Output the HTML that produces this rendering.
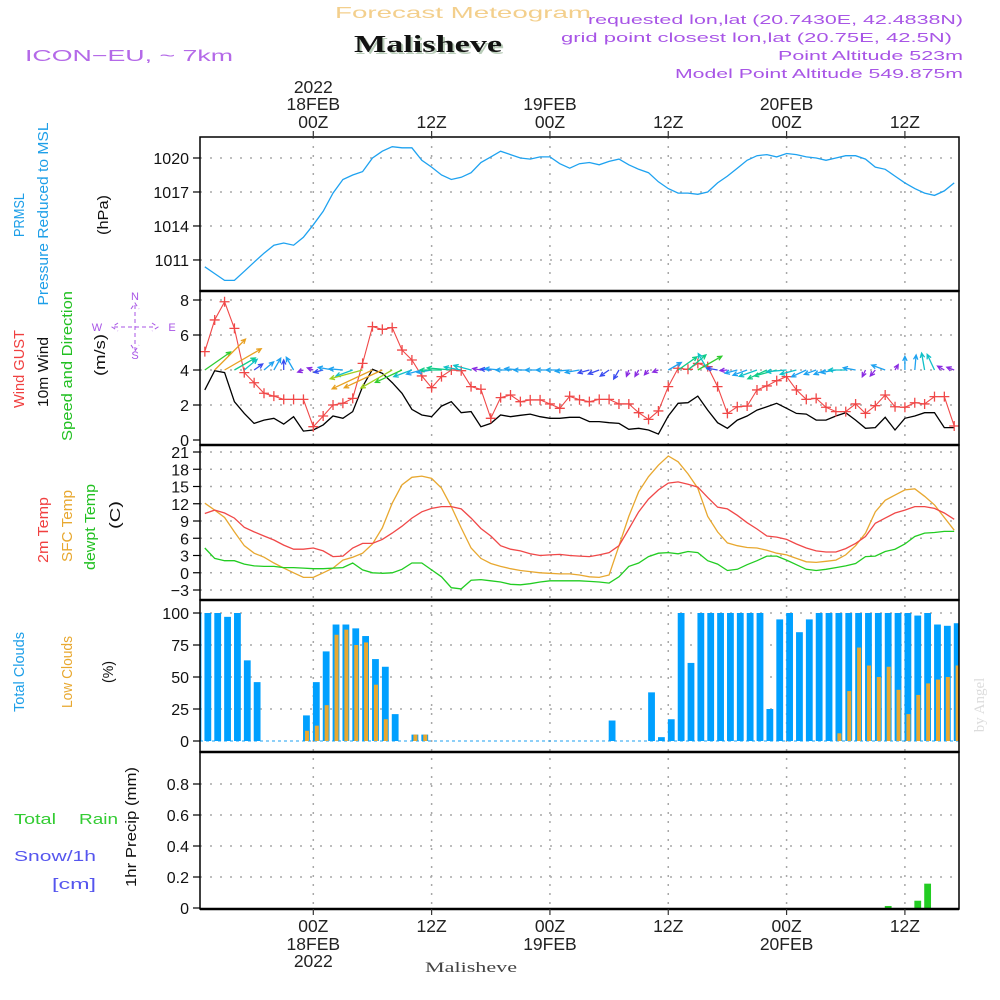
<!DOCTYPE html>
<html><head><meta charset="utf-8"><title>Forecast Meteogram Malisheve</title>
<style>
html,body{margin:0;padding:0;background:#fff;}
svg{display:block;font-family:"Liberation Sans",sans-serif;}
</style></head>
<body>
<svg id="chart" width="1000" height="1000" viewBox="0 0 1000 1000" xmlns="http://www.w3.org/2000/svg">
<defs>
<clipPath id="plotclip"><rect x="200" y="137" width="759" height="772"/></clipPath>
</defs>
<rect x="0" y="0" width="1000" height="1000" fill="#fff"/>
<!-- header -->
<text x="335" y="18" font-size="16" fill="#f3cf8c" textLength="256" lengthAdjust="spacingAndGlyphs">Forecast Meteogram</text>
<text x="356" y="54" font-family="Liberation Serif,serif" font-weight="bold" font-size="24" fill="#b9cdb9" textLength="148" lengthAdjust="spacingAndGlyphs">Malisheve</text>
<text x="354" y="52" font-family="Liberation Serif,serif" font-weight="bold" font-size="24" fill="#111" textLength="148" lengthAdjust="spacingAndGlyphs">Malisheve</text>
<text x="25" y="61" font-size="16" fill="#b469e8" textLength="208" lengthAdjust="spacingAndGlyphs">ICON−EU, ~ 7km</text>
<g font-size="13" fill="#a855e6">
<text x="588" y="24" textLength="375" lengthAdjust="spacingAndGlyphs">requested lon,lat (20.7430E, 42.4838N)</text>
<text x="561" y="42" textLength="391" lengthAdjust="spacingAndGlyphs">grid point closest lon,lat (20.75E, 42.5N)</text>
<text x="778" y="60" textLength="185" lengthAdjust="spacingAndGlyphs">Point Altitude 523m</text>
<text x="675" y="78" textLength="288" lengthAdjust="spacingAndGlyphs">Model Point Altitude 549.875m</text>
</g>
<text transform="translate(984,705) rotate(-90)" text-anchor="middle" font-family="Liberation Serif,serif" font-size="15" fill="#dcdcdc">by Angel</text>

<!-- left labels -->
<g font-size="15">
<text transform="translate(24,215) rotate(-90)" text-anchor="middle" fill="#1e9fe8" textLength="44" lengthAdjust="spacingAndGlyphs">PRMSL</text>
<text transform="translate(48,214) rotate(-90)" text-anchor="middle" fill="#1e9fe8" textLength="183" lengthAdjust="spacingAndGlyphs">Pressure Reduced to MSL</text>
<text transform="translate(108,215) rotate(-90)" text-anchor="middle" fill="#111" textLength="40" lengthAdjust="spacingAndGlyphs">(hPa)</text>
<text transform="translate(24,369) rotate(-90)" text-anchor="middle" fill="#f04040" textLength="78" lengthAdjust="spacingAndGlyphs">Wind GUST</text>
<text transform="translate(48,372) rotate(-90)" text-anchor="middle" fill="#111" textLength="70" lengthAdjust="spacingAndGlyphs">10m Wind</text>
<text transform="translate(72,366) rotate(-90)" text-anchor="middle" fill="#22c022" textLength="150" lengthAdjust="spacingAndGlyphs">Speed and Direction</text>
<text transform="translate(105,355) rotate(-90)" text-anchor="middle" fill="#111" textLength="42" lengthAdjust="spacingAndGlyphs">(m/s)</text>
<text transform="translate(48,530) rotate(-90)" text-anchor="middle" fill="#f04040" textLength="66" lengthAdjust="spacingAndGlyphs">2m Temp</text>
<text transform="translate(72,526) rotate(-90)" text-anchor="middle" fill="#e8a830" textLength="72" lengthAdjust="spacingAndGlyphs">SFC Temp</text>
<text transform="translate(95,527) rotate(-90)" text-anchor="middle" fill="#22c022" textLength="86" lengthAdjust="spacingAndGlyphs">dewpt Temp</text>
<text transform="translate(120,515) rotate(-90)" text-anchor="middle" fill="#111" textLength="28" lengthAdjust="spacingAndGlyphs">(C)</text>
<text transform="translate(24,672) rotate(-90)" text-anchor="middle" fill="#1e9fe8" textLength="80" lengthAdjust="spacingAndGlyphs">Total Clouds</text>
<text transform="translate(72,672) rotate(-90)" text-anchor="middle" fill="#e8a830" textLength="72" lengthAdjust="spacingAndGlyphs">Low Clouds</text>
<text transform="translate(113,672) rotate(-90)" text-anchor="middle" fill="#111" textLength="22" lengthAdjust="spacingAndGlyphs">(%)</text>
<text transform="translate(136,827) rotate(-90)" text-anchor="middle" fill="#111" textLength="120" lengthAdjust="spacingAndGlyphs">1hr Precip (mm)</text>
<text x="14" y="824" fill="#33cc33" textLength="42" lengthAdjust="spacingAndGlyphs">Total</text>
<text x="79" y="824" fill="#33cc33" textLength="39" lengthAdjust="spacingAndGlyphs">Rain</text>
<text x="14" y="861" fill="#5555ee" textLength="82" lengthAdjust="spacingAndGlyphs">Snow/1h</text>
<text x="52" y="889" fill="#5555ee" textLength="44" lengthAdjust="spacingAndGlyphs">[cm]</text>
</g>
<!-- compass -->
<g fill="#a855e6" stroke="#a855e6" font-size="11">
<text x="135" y="300" text-anchor="middle" stroke="none">N</text>
<text x="135" y="359" text-anchor="middle" stroke="none">S</text>
<text x="97" y="331" text-anchor="middle" stroke="none">W</text>
<text x="172" y="331" text-anchor="middle" stroke="none">E</text>
<path d="M135 305 V350 M114 327 H156 M131 309 L135 303 L139 309 M131 345 L135 351 L139 345 M118 323 L112 327 L118 331 M152 323 L158 327 L152 331" fill="none" stroke-width="1" stroke-dasharray="4,3"/>
</g>
<g id="plot"></g>
</svg>
<script>
// ---- data (hours relative to 18FEB 00Z) ----
const startHour = -11;
const pressure = [1010.4,1009.8,1009.2,1009.2,1010.0,1010.8,1011.6,1012.3,1012.5,1012.3,1013.0,1014.1,1015.3,1016.9,1018.1,1018.5,1018.8,1020.0,1020.6,1021.0,1020.9,1020.9,1019.8,1019.2,1018.5,1018.1,1018.3,1018.7,1019.6,1020.1,1020.6,1020.3,1020.0,1019.9,1020.1,1020.1,1019.5,1019.1,
 1019.5,1019.6,1019.4,1019.7,1019.9,1019.4,1019.0,1018.7,1017.9,1017.3,1016.9,1016.9,1016.8,1017.0,1017.8,1018.4,1019.1,1019.8,1020.2,1020.3,1020.1,1020.4,1020.3,1020.1,1020.0,1019.8,1020.0,1020.2,1020.2,1019.9,1019.2,1019.0,1018.4,1017.8,1017.3,1016.9,1016.7,1017.1,1017.8];
const windGust = [5.05,6.86,7.9,6.38,3.85,3.27,2.67,2.51,2.32,2.32,2.32,0.76,1.37,2.0,2.1,2.38,4.38,6.48,6.32,6.42,5.14,4.57,3.66,2.99,3.62,4.0,3.96,3.05,2.9,1.24,2.42,2.57,2.19,2.29,2.29,2.06,1.81,2.5,
 2.3,2.19,2.32,2.32,2.06,2.06,1.56,1.18,1.66,3.05,4.1,4.04,4.38,4.19,3.05,1.52,1.9,1.94,2.86,3.09,3.39,3.62,2.86,2.32,2.38,1.87,1.62,1.62,2.06,1.52,1.96,2.57,1.9,1.87,2.13,2.06,2.48,2.48,0.8];
const windSpeed = [2.86,3.96,3.85,2.19,1.52,0.95,1.14,1.24,0.91,1.33,0.51,0.57,0.86,1.37,1.24,1.62,3.05,4.04,3.81,3.28,2.67,1.75,1.43,1.33,1.94,2.19,1.56,1.62,0.76,0.95,1.43,1.33,1.41,1.48,1.33,1.24,1.24,1.3,
 1.3,1.05,1.05,0.99,0.95,0.61,0.67,0.57,0.34,1.37,2.1,2.13,2.51,1.71,0.99,0.67,1.14,1.37,1.71,1.9,2.1,1.81,1.52,1.48,1.14,1.14,1.37,1.56,1.14,0.67,0.71,1.3,0.57,1.24,1.37,1.56,1.56,0.71,0.71];
const windDir = [35,45,30,30,40,35,40,60,90,120,200,160,195,170,175,200,195,205,205,210,205,200,195,190,180,175,170,165,170,175,175,180,175,180,180,180,180,185,
 190,195,200,215,240,250,240,230,200,30,35,40,30,120,170,185,195,200,200,205,195,185,195,205,200,200,190,180,170,245,230,160,60,90,85,100,115,150,160];
const temp2m = [10.3,10.9,10.4,9.5,7.9,7.1,6.4,5.7,4.8,4.1,4.1,4.3,3.8,2.8,2.9,4.3,5.1,5.1,5.8,6.9,8.1,9.5,10.6,11.2,11.5,11.5,11.1,9.5,7.7,6.4,4.7,4.1,3.8,3.3,3.0,3.1,3.2,3.0,
 2.9,2.8,3.1,3.5,4.7,7.6,10.6,12.8,14.4,15.6,15.8,15.4,14.9,13.1,11.4,11.1,10.0,8.7,7.6,6.4,6.2,5.8,5.0,4.3,3.8,3.6,3.6,4.2,5.1,6.3,8.6,9.5,10.4,10.9,11.5,11.5,11.2,10.4,9.3];
const tempSfc = [12.1,10.9,9.6,7.1,4.7,3.4,2.7,1.7,0.8,0.0,-0.8,-0.8,0.0,0.8,2.2,2.7,3.4,5.0,7.8,12.1,15.3,16.6,16.8,16.4,14.7,11.5,7.8,4.3,2.5,1.6,1.1,0.7,0.4,0.2,0.0,-0.1,-0.2,-0.2,
 -0.4,-0.7,-0.8,-0.4,4.7,9.8,14.1,16.7,18.7,20.3,19.3,17.2,14.7,9.8,7.1,5.2,4.7,4.4,4.3,3.9,3.4,3.1,2.5,1.9,1.8,2.0,2.2,3.1,4.7,6.9,10.6,12.6,13.5,14.4,14.6,13.3,11.8,9.6,7.4];
const tempDew = [4.3,2.5,2.1,2.1,1.5,1.2,1.1,1.1,0.9,0.9,0.8,0.7,0.7,0.8,0.9,1.7,0.5,0.0,-0.1,0.0,0.6,1.7,1.7,0.5,-0.7,-2.6,-2.8,-1.3,-1.2,-1.4,-1.6,-2.0,-2.1,-1.9,-1.6,-1.4,-1.4,-1.4,
 -1.4,-1.5,-1.6,-1.8,-0.7,1.1,1.7,2.8,3.4,3.5,3.3,3.7,3.5,2.1,1.5,0.4,0.6,1.4,2.1,2.9,2.9,2.2,1.4,0.6,0.4,0.6,0.9,1.2,1.6,2.8,2.9,3.7,4.1,5.0,6.3,6.9,7.0,7.2,7.2];
const cloudStartHour = -12;
const totalClouds = [100,100,100,97,100,63,46,0,0,0,0,20,46,70,91,91,88,82,64,58,21,0,5,5,
 0,0,0,0,0,0,0,0,0,0,0,0,0,0,0,0,0,0,
 16,0,0,0,38,3,17,100,61,100,100,100,100,100,100,100,25,95,100,85,95,100,100,100,100,100,100,100,100,100,100,98,100,91,90,92];
const lowClouds = [0,0,0,0,0,0,0,0,0,0,0,8,12,28,83,87,75,77,44,17,0,0,5,5,
 0,0,0,0,0,0,0,0,0,0,0,0,0,0,0,0,0,0,0,0,0,0,0,0,0,0,0,0,0,0,0,0,0,0,0,0,0,0,0,0,0,
 6,39,73,59,50,58,40,21,36,45,48,50,59];
const precipHours = [58,61,62];
const precipValues = [0.013,0.047,0.157];
const pressureTicks = [1011,1014,1017,1020];
const windTicks = [0,2,4,6,8];
const tempTicks = [-3,0,3,6,9,12,15,18,21];
const cloudTicks = [0,25,50,75,100];
const precipTicks = [0,0.2,0.4,0.6,0.8];
const precipTickLabels = ["0","0.2","0.4","0.6","0.8"];
const timeTicks = [0,12,24,36,48,60];
const topTimeLabels = [["2022","18FEB","00Z"],["","","12Z"],["","19FEB","00Z"],["","","12Z"],["","20FEB","00Z"],["","","12Z"]];
const bottomTimeLabels = [["00Z","18FEB","2022"],["12Z","",""],["00Z","19FEB",""],["12Z","",""],["00Z","20FEB",""],["12Z","",""]];

// ---- scales ----
const L = 200, R = 959;
const X = h => 313.3 + 9.86 * h;
const yP = p => 158 + (1020 - p) * 11.33;
const yW = v => 440 - v * 17.5;
const yT = t => 452 + (21 - t) * 5.75;
const yC = c => 741 - c * 1.28;
const yR = r => 908 - r * 155;
const panels = [[137,291],[291,445],[445,600],[600,752],[752,909]];

const NS = "http://www.w3.org/2000/svg";
const plot = document.getElementById('plot');
function mk(tag, attrs, parent) {
  const e = document.createElementNS(NS, tag);
  for (const k in attrs) e.setAttribute(k, attrs[k]);
  (parent || plot).appendChild(e);
  return e;
}
const clipG = mk('g', {'clip-path': 'url(#plotclip)'});



function hgrid(vals, f, name) {
  vals.forEach(v => {
    const l = mk('line', {x1: L, x2: R, y1: f(v), y2: f(v), stroke: '#a8a8a8', 'stroke-width': 1.5, 'stroke-dasharray': '2,8'}, clipG);
    
    
  });
}
hgrid(pressureTicks, yP, 'pressure');
hgrid(windTicks.filter(v => v > 0), yW, 'wind');
hgrid(tempTicks, yT, 'temp');
hgrid(cloudTicks.filter(v => v > 0), yC, 'cloud');
hgrid(precipTicks.filter(v => v > 0), yR, 'precip');
timeTicks.forEach(h => {
  const l = mk('line', {x1: X(h), x2: X(h), y1: 137, y2: 909, stroke: '#a8a8a8', 'stroke-width': 1.5, 'stroke-dasharray': '2,7'}, clipG);
  
  
});

function series(arr, f, color, name, w) {
  const pts = arr.map((v, i) => X(startHour + i).toFixed(1) + ',' + f(v).toFixed(1)).join(' ');
  const e = mk('polyline', {points: pts, fill: 'none', stroke: color, 'stroke-width': w || 1.3}, clipG);
  
  
  return e;
}
series(pressure, yP, '#1ea2f0', 'pressure-line');
series(windSpeed, yW, '#000', 'wind-speed-line', 1.3);
series(windGust, yW, '#f04848', 'wind-gust-line', 1.1);
windGust.forEach((v, i) => {
  const x = X(startHour + i), y = yW(v);
  const m = mk('path', {d: `M${x-5} ${y} H${x+5} M${x} ${y-5} V${y+5}`, stroke: '#f04848', 'stroke-width': 1.3, fill: 'none'}, clipG);
  
  
});
function windColor(s) {
  if (s < 0.8) return '#8a2be2';
  if (s < 1.1) return '#3a4cf0';
  if (s < 1.5) return '#1ea2f0';
  if (s < 1.9) return '#10c0c8';
  if (s < 2.4) return '#10cc88';
  if (s < 3.0) return '#30cc30';
  if (s < 3.4) return '#a0d020';
  if (s < 3.7) return '#e0c020';
  return '#e8a020';
}
windSpeed.forEach((s, i) => {
  const x0 = X(startHour + i), y0 = yW(4);
  const a = windDir[i] * Math.PI / 180, len = Math.max(6, 11 * s);
  const x1 = x0 + len * Math.cos(a), y1 = y0 - len * Math.sin(a);
  const hl = 5, b1 = a + Math.PI - 0.45, b2 = a + Math.PI + 0.45;
  const d = `M${x0.toFixed(1)} ${y0.toFixed(1)} L${x1.toFixed(1)} ${y1.toFixed(1)} M${(x1+hl*Math.cos(b1)).toFixed(1)} ${(y1-hl*Math.sin(b1)).toFixed(1)} L${x1.toFixed(1)} ${y1.toFixed(1)} L${(x1+hl*Math.cos(b2)).toFixed(1)} ${(y1-hl*Math.sin(b2)).toFixed(1)}`;
  const e = mk('path', {d: d, stroke: windColor(s), 'stroke-width': 1.3, fill: 'none'}, clipG);
  
  
});
series(tempSfc, yT, '#e8a830', 'sfc-temp-line');
series(temp2m, yT, '#f04848', 'temp-2m-line');
series(tempDew, yT, '#22cc22', 'dewpoint-line');
const zl = mk('line', {x1: L, x2: R, y1: yC(0), y2: yC(0), stroke: '#1ea2f0', 'stroke-width': 1, 'stroke-dasharray': '3,3'}, clipG);


totalClouds.forEach((c, i) => {
  if (c <= 0) return;
  const cx = X(cloudStartHour + i) + 3;
  const r = mk('rect', {x: cx - 3.4, y: yC(c), width: 6.8, height: yC(0) - yC(c), fill: '#00a0ff'}, clipG);
  
  
});
lowClouds.forEach((c, i) => {
  if (c <= 0) return;
  const cx = X(cloudStartHour + i) + 3.5;
  const r = mk('rect', {x: cx - 2, y: yC(c), width: 4, height: yC(0) - yC(c), fill: '#e8a830'}, clipG);
  
  
});
precipHours.forEach((h, i) => {
  const cx = X(h) + 3;
  const r = mk('rect', {x: cx - 3.4, y: yR(precipValues[i]), width: 6.8, height: yR(0) - yR(precipValues[i]), fill: '#22cc22'}, clipG);
  
  
});

panels.forEach((p, i) => {
  const r = mk('rect', {x: L, y: p[0], width: R - L, height: p[1] - p[0], fill: 'none', stroke: '#000', 'stroke-width': 1.5});
  
  
});
[291, 445, 600, 752, 909].forEach(y => {
  const l = mk('line', {x1: L, x2: R, y1: y, y2: y, stroke: '#000', 'stroke-width': 2.5});
  
  
});

function yTicks(vals, labels, f, name) {
  vals.forEach((v, i) => {
    const t = mk('line', {x1: 193, x2: L, y1: f(v), y2: f(v), stroke: '#000', 'stroke-width': 1.2});
    
    
    const tx = mk('text', {x: 189, y: f(v) + 6, 'text-anchor': 'end', 'font-size': 16, fill: '#111'});
    tx.textContent = labels[i];
    
    
  });
}
yTicks(pressureTicks, pressureTicks.map(String), yP, 'pressure');
yTicks(windTicks, windTicks.map(String), yW, 'wind');
yTicks(tempTicks, tempTicks.map(v => v < 0 ? '−' + (-v) : String(v)), yT, 'temp');
yTicks(cloudTicks, cloudTicks.map(String), yC, 'cloud');
yTicks(precipTicks, precipTickLabels, yR, 'precip');

timeTicks.forEach((h, i) => {
  const x = X(h);
  const tt = mk('line', {x1: x, x2: x, y1: 131, y2: 137, stroke: '#333', 'stroke-width': 1.2});
  
  
  const bt = mk('line', {x1: x, x2: x, y1: 909, y2: 915, stroke: '#333', 'stroke-width': 1.2});
  
  
  [93, 110, 128].forEach((y, j) => {
    const s = topTimeLabels[i][j];
    if (!s) return;
    const t = mk('text', {x: x, y: y, 'text-anchor': 'middle', 'font-size': 17.5, fill: '#222'});
    t.textContent = s;
    
    
  });
  [932, 950, 967].forEach((y, j) => {
    const s = bottomTimeLabels[i][j];
    if (!s) return;
    const t = mk('text', {x: x, y: y, 'text-anchor': 'middle', 'font-size': 17.5, fill: '#222'});
    t.textContent = s;
    
    
  });
});
const bl = mk('text', {x: 471, y: 972, 'text-anchor': 'middle', 'font-size': 15, 'font-family': 'Liberation Serif,serif', fill: '#444', textLength: 92, lengthAdjust: 'spacingAndGlyphs'});
bl.textContent = 'Malisheve';


</script>
</body></html>
